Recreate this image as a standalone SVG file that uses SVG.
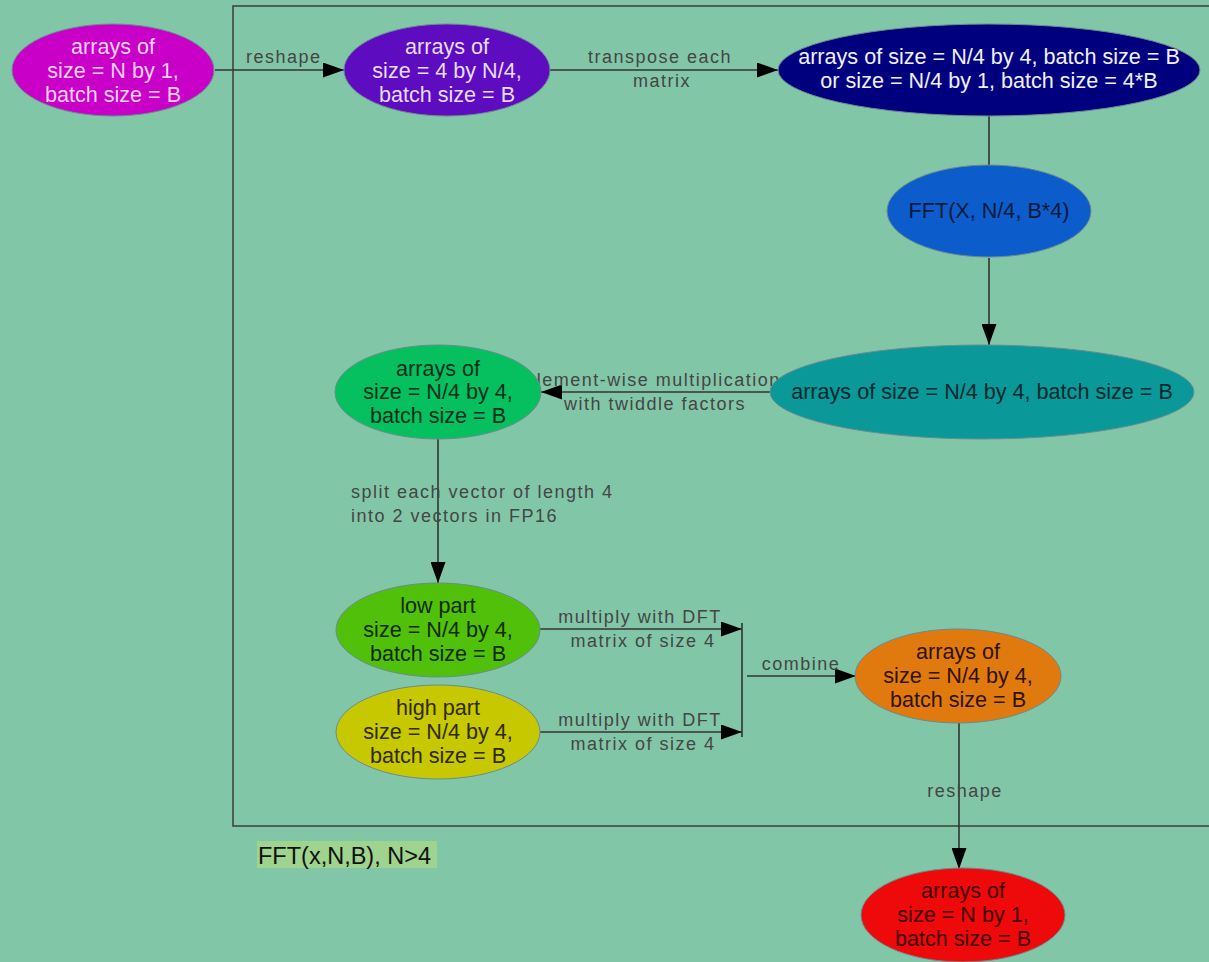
<svg xmlns="http://www.w3.org/2000/svg" width="1209" height="962" viewBox="0 0 1209 962">
  <defs>
    <marker id="arrow" markerUnits="userSpaceOnUse" markerWidth="21" markerHeight="15" refX="21" refY="7.5" orient="auto">
      <path d="M0,0 L21,7.5 L0,15 z" fill="#000"/>
    </marker>
    <style>
      .node ellipse { stroke: #6a8a90; stroke-width: 1; }
      .node text { font-family: "Liberation Sans", Arial, sans-serif; font-size: 21.6px; text-anchor: middle; }
      .edges path { fill: none; stroke: #333; stroke-width: 1.6; }
      .edges path.arr { marker-end: url(#arrow); }
      .lbl { font-family: "Liberation Sans", Arial, sans-serif; font-size: 18px; letter-spacing: 1.5px; fill: #454545; }
      .mid { text-anchor: middle; }
    </style>
  </defs>

  <!-- background -->
  <rect x="0" y="0" width="1209" height="962" fill="#81c7a7"/>

  <!-- cluster frame for FFT(x,N,B) -->
  <rect x="233" y="6" width="1000" height="820" fill="none" stroke="#444" stroke-width="1.6"/>

  <!-- caption -->
  <g id="caption">
    <rect x="257" y="841" width="180" height="27" fill="#9fd48e"/>
    <text x="258" y="864" font-family="Liberation Sans, Arial, sans-serif" font-size="23.5px" fill="#111">FFT(x,N,B), N&gt;4</text>
  </g>

  <!-- connectors -->
  <g class="edges">
    <path class="arr" d="M215,70 L344,70"/>
    <path class="arr" d="M550,70 L778,70"/>
    <path d="M989,116 L989,165"/>
    <path class="arr" d="M989,258 L989,345"/>
    <path class="arr" d="M770,392 L541,392"/>
    <path class="arr" d="M438,439 L438,583"/>
    <path class="arr" d="M540,629 L742,629"/>
    <path class="arr" d="M540,732 L742,732"/>
    <path d="M742,623 L742,737"/>
    <path class="arr" d="M747,676 L856,676"/>
    <path class="arr" d="M959,723 L959,869"/>
  </g>

  <!-- connector labels -->
  <g id="edge-labels">
    <text class="lbl" x="246" y="63">reshape</text>
    <text class="lbl mid" x="660" y="63">transpose each</text>
    <text class="lbl mid" x="662" y="87">matrix</text>
    <text class="lbl mid" x="653" y="386">element-wise multiplication</text>
    <text class="lbl mid" x="655" y="410">with twiddle factors</text>
    <text class="lbl" x="351" y="498">split each vector of length 4</text>
    <text class="lbl" x="351" y="522">into 2 vectors in FP16</text>
    <text class="lbl mid" x="640" y="623">multiply with DFT</text>
    <text class="lbl mid" x="643" y="647">matrix of size 4</text>
    <text class="lbl mid" x="640" y="726">multiply with DFT</text>
    <text class="lbl mid" x="643" y="750">matrix of size 4</text>
    <text class="lbl mid" x="801" y="670">combine</text>
    <text class="lbl mid" x="965" y="797">reshape</text>
  </g>

  <!-- nodes -->
  <g id="input" class="node">
    <ellipse cx="113" cy="70" rx="101" ry="46" fill="#c800c8"/>
    <text fill="#f6d2f6"><tspan x="113" y="54">arrays of</tspan><tspan x="113" y="78">size = N by 1,</tspan><tspan x="113" y="102">batch size = B</tspan></text>
  </g>

  <g id="reshaped" class="node">
    <ellipse cx="447" cy="70" rx="103" ry="46" fill="#5e0cc0"/>
    <text fill="#e6dcfa"><tspan x="447" y="54">arrays of</tspan><tspan x="447" y="78">size = 4 by N/4,</tspan><tspan x="447" y="102">batch size = B</tspan></text>
  </g>

  <g id="transposed" class="node">
    <ellipse cx="989" cy="70" rx="211" ry="46" fill="#00007e"/>
    <text fill="#f0f0ff"><tspan x="989" y="64">arrays of size = N/4 by 4, batch size = B</tspan><tspan x="989" y="88">or size = N/4 by 1, batch size = 4*B</tspan></text>
  </g>

  <g id="fft-sub" class="node">
    <ellipse cx="989" cy="211" rx="102" ry="46" fill="#0c5ccc"/>
    <text fill="#0a1a3a"><tspan x="989" y="218">FFT(X, N/4, B*4)</tspan></text>
  </g>

  <g id="fft-result" class="node">
    <ellipse cx="982" cy="392" rx="212" ry="47" fill="#0a9898"/>
    <text fill="#022a2e"><tspan x="982" y="399">arrays of size = N/4 by 4, batch size = B</tspan></text>
  </g>

  <g id="twiddled" class="node">
    <ellipse cx="438" cy="392" rx="103" ry="47" fill="#06c060"/>
    <text fill="#04301a"><tspan x="438" y="376">arrays of</tspan><tspan x="438" y="399">size = N/4 by 4,</tspan><tspan x="438" y="423">batch size = B</tspan></text>
  </g>

  <g id="low-part" class="node">
    <ellipse cx="438" cy="630" rx="102" ry="47" fill="#50c00a"/>
    <text fill="#102a04"><tspan x="438" y="613">low part</tspan><tspan x="438" y="637">size = N/4 by 4,</tspan><tspan x="438" y="661">batch size = B</tspan></text>
  </g>

  <g id="high-part" class="node">
    <ellipse cx="438" cy="732" rx="102" ry="47" fill="#c8c800"/>
    <text fill="#2e2a04"><tspan x="438" y="715">high part</tspan><tspan x="438" y="739">size = N/4 by 4,</tspan><tspan x="438" y="763">batch size = B</tspan></text>
  </g>

  <g id="combined" class="node">
    <ellipse cx="958" cy="676" rx="103" ry="47" fill="#e07a0e"/>
    <text fill="#301204"><tspan x="958" y="659">arrays of</tspan><tspan x="958" y="683">size = N/4 by 4,</tspan><tspan x="958" y="707">batch size = B</tspan></text>
  </g>

  <g id="output" class="node">
    <ellipse cx="963" cy="915" rx="102" ry="47" fill="#ee0a0a"/>
    <text fill="#420404"><tspan x="963" y="898">arrays of</tspan><tspan x="963" y="922">size = N by 1,</tspan><tspan x="963" y="946">batch size = B</tspan></text>
  </g>
</svg>
